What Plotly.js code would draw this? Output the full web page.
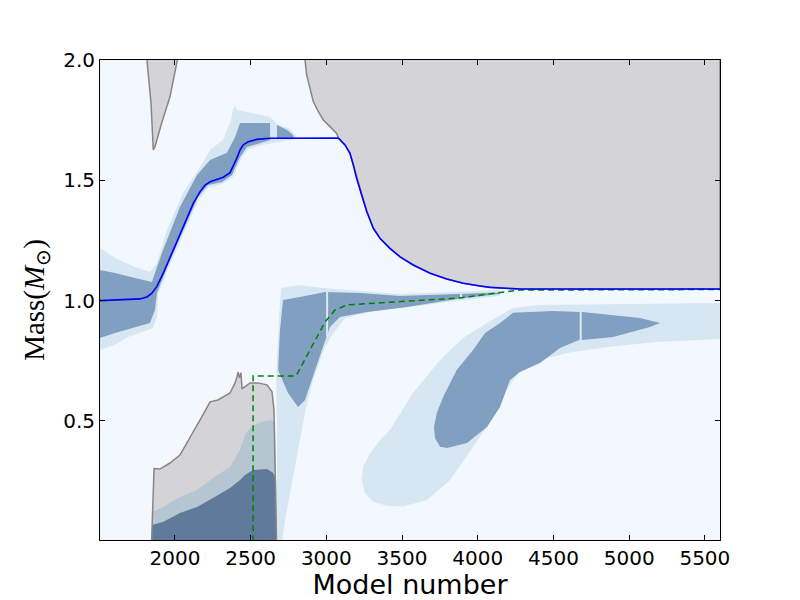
<!DOCTYPE html>
<html>
<head>
<meta charset="utf-8">
<script src="https://cdn.plot.ly/plotly-3.0.1.min.js"></script>
<style>body{margin:0;background:#fff}</style>
</head>
<body>
<div id="chart" style="width:800px;height:600px"></div>
<script>
// envelope boundary (blue line)
const envX = [1505,1769,1815,1846,1880,1923,1989,2055,2121,2166,2199,2232,2276,2319,2364,2385,2408,2430,2451,2484,2540,2628,3079,3123,3156,3178,3200,3233,3267,3310,3354,3420,3487,3574,3685,3795,3905,4015,4081,4279,5600];
const envY = [1.000,1.007,1.015,1.030,1.058,1.114,1.210,1.307,1.404,1.453,1.480,1.494,1.504,1.513,1.532,1.557,1.591,1.626,1.647,1.660,1.670,1.675,1.676,1.647,1.612,1.564,1.508,1.439,1.370,1.301,1.259,1.217,1.182,1.148,1.114,1.090,1.072,1.061,1.055,1.048,1.048];

// upper left edge of the grey region on the right
const greyEdgeX = [2859,2870,2892,2914,2947,2980,3024,3068];
const greyEdgeY = [2.0,1.938,1.882,1.827,1.785,1.751,1.723,1.695];

// grey spike at top left
const spikeX = [1815,1829,1842,1857,1868,1912,1967,2016];
const spikeY = [2.0,1.904,1.821,1.626,1.640,1.737,1.847,2.0];

// grey core region bottom left
const coreX = [1846,1862,1901,1967,2033,2099,2166,2232,2284,2364,2397,2410,2417,2426,2436,2443,2469,2496,2549,2608,2641,2654,2671];
const coreY = [0.0,0.302,0.300,0.325,0.358,0.429,0.504,0.579,0.587,0.616,0.658,0.683,0.704,0.679,0.700,0.633,0.645,0.658,0.658,0.650,0.621,0.546,0.0];

// layers inside the core
const midX = [1848,1921,2033,2146,2251,2364,2430,2463,2496,2549,2628,2661,2671,1848];
const midY = [0.121,0.142,0.184,0.213,0.263,0.308,0.379,0.441,0.470,0.491,0.504,0.495,0.0,0.0];
const slateX = [1849,1921,2033,2146,2251,2364,2430,2463,2516,2608,2648,2668,2671,1849];
const slateY = [0.067,0.080,0.117,0.142,0.180,0.221,0.254,0.275,0.296,0.300,0.284,0.254,0.0,0.0];

// green dashed line
const corX = [2516,2516,2800,2892,2991,3057,3136,3334,3619,3883,4127,4279,5600];
const corY = [0.0,0.687,0.687,0.795,0.911,0.961,0.982,0.990,1.001,1.011,1.032,1.044,1.046];

// upper convective band
const upDarkX = [1505,1604,1736,1848,1914,2033,2146,2232,2344,2397,2430,2628,2628,2562,2476,2430,2377,2311,2218,2152,2053,1948,1881,1868,1835,1736,1604,1505];
const upDarkY = [1.127,1.115,1.094,1.077,1.198,1.389,1.522,1.584,1.614,1.680,1.738,1.738,1.668,1.655,1.638,1.597,1.522,1.493,1.480,1.431,1.293,1.140,1.032,0.961,0.907,0.890,0.865,0.845];
const upBitX = [2674,2740,2780,2786,2674];
const upBitY = [1.730,1.709,1.688,1.672,1.672];
const upHaloX = [1505,1604,1736,1835,1881,1948,2053,2166,2232,2317,2370,2383,2397,2410,2476,2562,2628,2674,2760,2800,2800,2575,2483,2436,2383,2311,2225,2159,2060,1954,1888,1881,1855,1782,1690,1604,1505];
const upHaloY = [1.219,1.177,1.140,1.119,1.156,1.293,1.447,1.555,1.626,1.668,1.751,1.792,1.809,1.792,1.784,1.771,1.763,1.734,1.713,1.684,1.672,1.647,1.630,1.589,1.514,1.485,1.472,1.422,1.285,1.131,1.023,0.932,0.886,0.870,0.849,0.816,0.795];

// middle convective band
const midDarkX = [2714,2826,2991,3222,3487,3870,4147,4147,3883,3533,3268,3090,3024,2971,2912,2859,2813,2747,2681,2694];
const midDarkY = [1.003,1.015,1.036,1.032,1.019,1.027,1.034,1.027,1.009,0.973,0.953,0.932,0.890,0.795,0.683,0.587,0.558,0.616,0.712,0.878];
const midHaloX = [2701,2826,2978,3222,3487,3850,4147,4147,3850,3553,3288,3123,3037,2991,2912,2866,2826,2773,2727,2707,2674,2674,2668,2687];
const midHaloY = [1.052,1.065,1.052,1.040,1.027,1.036,1.044,1.019,0.998,0.973,0.953,0.928,0.857,0.807,0.670,0.558,0.421,0.254,0.088,0.0,0.0,0.504,0.670,0.919];

// lower right zone
const lowHaloX = [5600,4920,4411,4233,4061,3903,3751,3572,3420,3354,3288,3244,3233,3255,3310,3399,3508,3665,3817,3969,4101,4193,4279,4411,4589,4854,5184,5600];
const lowHaloY = [0.990,0.986,0.982,0.969,0.907,0.845,0.753,0.616,0.462,0.421,0.365,0.310,0.254,0.199,0.164,0.147,0.144,0.171,0.254,0.392,0.516,0.629,0.712,0.753,0.782,0.807,0.828,0.840];
const blobX = [4233,4497,4669,4689,5072,5204,5138,4894,4689,4669,4543,4411,4279,4213,4147,4061,3929,3797,3751,3718,3711,3729,3773,3817,3861,3969,4048,4147];
const blobY = [0.949,0.957,0.953,0.953,0.928,0.907,0.890,0.849,0.836,0.836,0.803,0.741,0.703,0.670,0.558,0.475,0.408,0.387,0.393,0.428,0.476,0.532,0.601,0.656,0.712,0.795,0.865,0.907];

// thin gaps in the zones
const gapX = [3005,3005,null,3890,3890,null,4680,4680];
const gapY = [1.037,0.850,null,1.030,1.008,null,0.957,0.834];

const xTicks = [2000,2500,3000,3500,4000,4500,5000,5500];
const yTicks = [0.5,1.0,1.5,2.0];

const BG = '#f2f8fd';
const LIGHT = '#d6e6f2';
const DARK = '#819fc0';
const GREY = '#d3d3d8';
const GREYLINE = '#8c8484';

function poly(x, y, color, lineColor, lineWidth) {
    return {
        x: x, y: y, mode: 'lines', fill: 'toself', fillcolor: color,
        line: {color: lineColor || color, width: lineWidth || 0},
        hoverinfo: 'skip', showlegend: false
    };
}

let greyX = greyEdgeX.slice();
let greyY = greyEdgeY.slice();
for (let i = 0; i < envX.length; i++) {
    if (envX[i] >= 3079) {
        greyX.push(envX[i]);
        greyY.push(envY[i]);
    }
}
greyX.push(5600);
greyY.push(2.0);

let data = [
    poly(lowHaloX, lowHaloY, LIGHT),
    poly(midHaloX, midHaloY, LIGHT),
    poly(upHaloX, upHaloY, LIGHT),
    poly(blobX, blobY, DARK),
    poly(midDarkX, midDarkY, DARK),
    poly(upDarkX, upDarkY, DARK),
    poly(upBitX, upBitY, DARK),
    {x: gapX, y: gapY, mode: 'lines', line: {color: '#dfe9f3', width: 2}, hoverinfo: 'skip', showlegend: false},
    poly(greyX, greyY, GREY, GREYLINE, 1.5),
    poly(spikeX, spikeY, GREY, GREYLINE, 1.5),
    poly(coreX, coreY, GREY),
    poly(midX, midY, '#b5c5d2'),
    poly(slateX, slateY, '#5f7a9a'),
    {x: coreX, y: coreY, mode: 'lines', line: {color: GREYLINE, width: 1.5}, hoverinfo: 'skip', showlegend: false},
    {x: corX, y: corY, mode: 'lines', line: {color: '#008000', width: 1.5, dash: '6px,4px'}, hoverinfo: 'skip', showlegend: false},
    {x: envX, y: envY, mode: 'lines', line: {color: '#0000ff', width: 1.6}, hoverinfo: 'skip', showlegend: false}
];

let layout = {
    width: 800,
    height: 600,
    margin: {l: 100, r: 80, t: 60, b: 60},
    paper_bgcolor: '#ffffff',
    plot_bgcolor: BG,
    showlegend: false,
    font: {family: 'DejaVu Sans', size: 20, color: '#000'},
    xaxis: {
        range: [1505, 5600],
        tickvals: xTicks,
        ticks: 'inside', ticklen: 5, tickcolor: '#000',
        showline: true, linecolor: '#000', linewidth: 1, mirror: 'allticks',
        showgrid: false, zeroline: false,
        title: {text: 'Model number', font: {family: 'DejaVu Sans', size: 27}, standoff: 2}
    },
    yaxis: {
        range: [0.005, 2.0],
        tickvals: yTicks,
        tickformat: '.1f',
        ticks: 'inside', ticklen: 5, tickcolor: '#000',
        showline: true, linecolor: '#000', linewidth: 1, mirror: 'allticks',
        showgrid: false, zeroline: false,
        title: {text: 'Mass(<i>M</i><sub>⊙</sub>)', font: {family: 'Liberation Serif', size: 29}, standoff: 10}
    }
};

Plotly.newPlot('chart', data, layout, {staticPlot: true});
</script>
</body>
</html>
